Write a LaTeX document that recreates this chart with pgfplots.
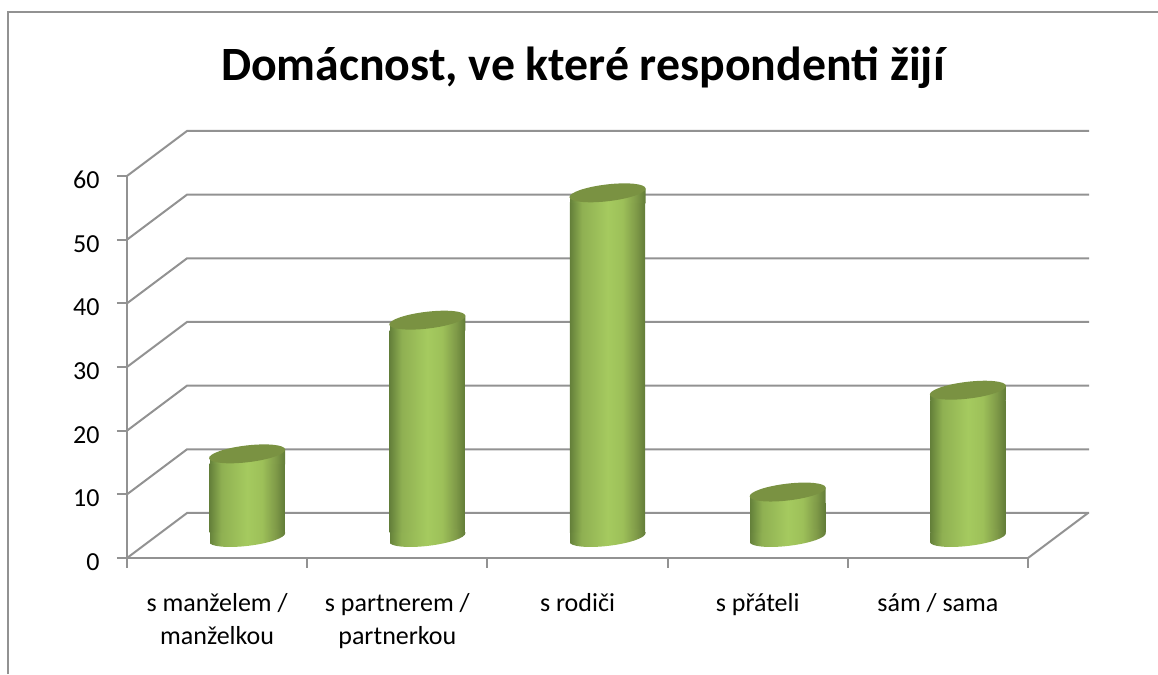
\documentclass[border=0pt]{standalone}
\usepackage{fontspec}
\setmainfont{Carlito}
\usepackage{pgfplots}
\pgfplotsset{compat=1.18}

\definecolor{linec}{HTML}{929292}
\definecolor{cyla}{HTML}{64803A}
\definecolor{cylb}{HTML}{8FB052}
\definecolor{cylc}{HTML}{A5CA5F}
\definecolor{cyld}{HTML}{9DC059}
\definecolor{cyle}{HTML}{7F9A48}
\definecolor{cylf}{HTML}{627C38}
\definecolor{cyltopc}{HTML}{7A9242}

% for bars: path bbox is mapped to 25bp..75bp
\pgfdeclarehorizontalshading{cyl}{100bp}{color(0bp)=(cyla); color(25bp)=(cyla); color(33bp)=(cylb); color(50bp)=(cylc); color(60bp)=(cyld); color(69bp)=(cyle); color(75bp)=(cylf); color(100bp)=(cylf)}
% for marks: used directly as a box, 76pt wide
\pgfdeclarehorizontalshading{cylm}{40pt}{color(0pt)=(cyla); color(12pt)=(cylb); color(38pt)=(cylc); color(53pt)=(cyld); color(67pt)=(cyle); color(76pt)=(cylf)}

\newcommand\markshade{\pgftext[left,bottom,at={\pgfpoint{-38pt}{-20pt}}]{\pgfuseshading{cylm}}}

% top cap of a cylinder, origin = top of the bar
\pgfdeclareplotmark{cyltop}{
  \begin{scope}
    \path[clip,draw=none] (-38pt,-0.5pt) -- (38pt,-0.5pt) -- (38pt,14.5pt) -- (-38pt,5.5pt) -- cycle;
    \markshade
  \end{scope}
  \fill[cyltopc,draw=none] (0pt,10pt) ellipse [x radius=38.3pt,y radius=8.4pt,rotate=6.7];
}
% rounded foot, origin = bottom of the bar
\pgfdeclareplotmark{cylbot}{
  \begin{scope}
    \path[clip,draw=none] (0pt,-4.5pt) ellipse [x radius=38.3pt,y radius=8.4pt,rotate=6.7];
    \markshade
  \end{scope}
  \begin{scope}
    \path[clip,draw=none] (-38pt,0.5pt) -- (38pt,0.5pt) -- (38pt,0pt) -- (-38pt,-9pt) -- cycle;
    \markshade
  \end{scope}
}

\newcommand\st{\rule{0pt}{20pt}}

\begin{document}
\begin{tikzpicture}
\path[use as bounding box] (0pt,0pt) rectangle (1158pt,674pt);
\draw[linec,line width=2pt] (7.5pt,0pt) -- (7.5pt,662pt) -- (1158pt,662pt);
\node[anchor=base,font=\fontsize{47.8}{54}\selectfont\bfseries] at (583pt,593pt) {Domácnost, ve které respondenti žijí};

\begin{axis}[
    at={(127pt,116pt)},
    anchor=south west,
    scale only axis,
    width=901pt,
    height=382pt,
    xmin=0, xmax=5,
    ymin=0, ymax=60,
    axis lines=left,
    axis line style={linec,line width=2pt,-},
    tick style={linec,line width=2pt},
    tick align=outside,
    major tick length=10pt,
    minor tick length=10pt,
    ytick={0,10,...,60},
    xtick={0.5,1.5,2.5,3.5,4.5},
    minor xtick={0,1,...,5},
    major x tick style={draw=none},
    xticklabels={{\st s manželem /\\manželkou},{\st s partnerem /\\partnerkou},{\st s rodiči},{\st s přáteli},{\st sám / sama}},
    x tick label style={align=center,anchor=north,font=\fontsize{26}{33}\selectfont,yshift=-20pt},
    y tick label style={font=\fontsize{26}{30}\selectfont,xshift=-14pt,yshift=-4pt},
    /pgf/number format/assume math mode=true,
    clip=false,
]
\pgfplotsinvokeforeach{0,10,...,60}{
  \draw[linec,line width=2pt] (axis cs:0,#1) -- ++(60pt,45pt) -- ++(902pt,0pt);
}
\draw[linec,line width=2pt] (axis cs:5,0) -- ++(60pt,45pt);
\end{axis}

\begin{axis}[
    at={(157pt,141pt)},
    anchor=south west,
    scale only axis,
    width=901pt,
    height=382pt,
    xmin=0, xmax=5,
    ymin=0, ymax=60,
    hide axis,
    clip=false,
    cylbar/.style={ybar,bar width=75.2pt,bar shift=0pt,draw=none,shading=cyl,shading angle=0,y filter/.expression={y-3.14}},
    cylcap/.style={only marks,mark=cyltop,mark options={draw=none},y filter/.expression={y-3.14}},
]
\addplot[only marks,mark=cylbot,mark options={draw=none}] coordinates {(0.5,0) (1.5,0) (2.5,0) (3.5,0) (4.5,0)};
\addplot[cylbar] coordinates {(0.5,14)};
\addplot[cylbar] coordinates {(1.5,35)};
\addplot[cylbar] coordinates {(2.5,55)};
\addplot[cylbar] coordinates {(3.5,8)};
\addplot[cylbar] coordinates {(4.5,24)};
\addplot[cylcap] coordinates {(0.5,14) (1.5,35) (2.5,55) (3.5,8) (4.5,24)};
\end{axis}
\end{tikzpicture}
\end{document}
